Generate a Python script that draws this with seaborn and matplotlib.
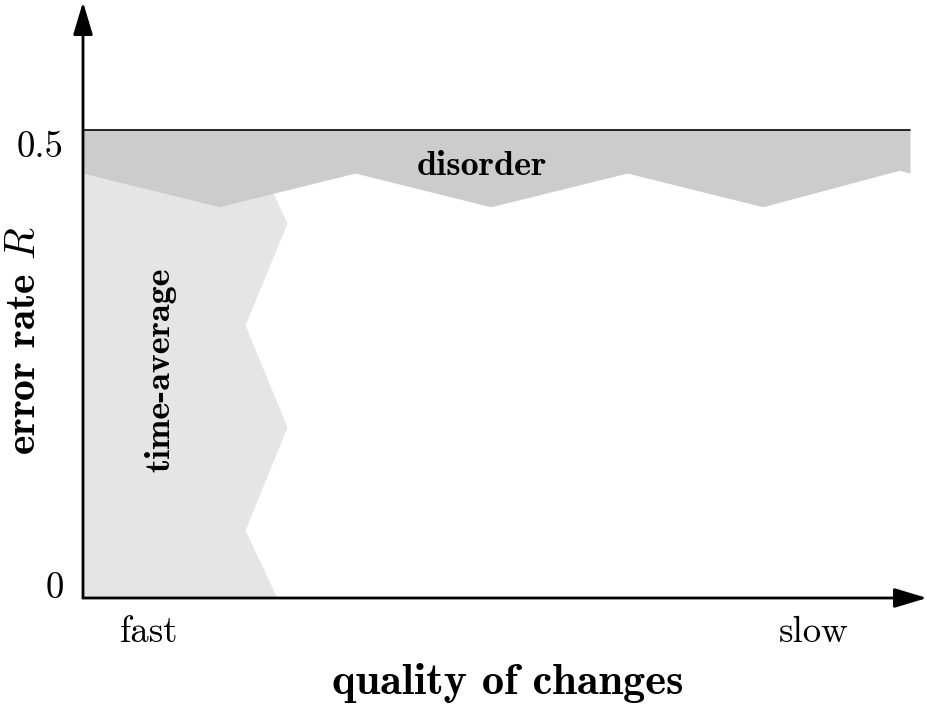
import matplotlib
matplotlib.use('Agg')
import matplotlib.pyplot as plt
import seaborn as sns
import numpy as np

# data (x: 0 = fast ... 1 = slow, y: error rate R)
disorder_x = [0.0, 0.1645, 0.329, 0.493, 0.658, 0.822, 0.987, 1.0]
disorder_low = [0.454, 0.418, 0.454, 0.418, 0.454, 0.418, 0.457, 0.454]
disorder_top = 0.5

avg_y = [0.0, 0.0726, 0.1827, 0.2917, 0.4006, 0.4327, 0.456]
avg_x = [0.2346, 0.1959, 0.2467, 0.1959, 0.2467, 0.2296, 0.217]

ytick_vals = [0, 0.5]
ytick_labels = ['0', '0.5']
xtick_labels = ['fast', 'slow']

sns.set_theme(style='white')
plt.rcParams['font.family'] = ['cmr10']
plt.rcParams['mathtext.fontset'] = 'cm'
plt.rcParams['axes.formatter.use_mathtext'] = True
plt.rcParams['text.color'] = 'black'

fig = plt.figure(figsize=(9.27, 7.04), dpi=100)
ax = fig.add_axes([0, 0, 1, 1])
ax.set_xlim(-83 / 827, 844 / 827)
ax.set_ylim(-106 / 936, 598 / 936)
ax.axis('off')

# time-average region
ax.fill_betweenx(avg_y, 0, avg_x, color='#e5e5e5', lw=0, zorder=1)

# disorder band
ax.fill_between(disorder_x, disorder_low, disorder_top, color='#cccccc', lw=0, zorder=2)
sns.lineplot(x=[disorder_x[0], disorder_x[-1]], y=[disorder_top, disorder_top],
             color='black', lw=1.2, ax=ax, zorder=3, estimator=None)

# axes with arrows
arrow = dict(arrowstyle='-|>,head_length=2.0,head_width=0.6', mutation_scale=10,
             color='black', lw=2, shrinkA=0, shrinkB=0)
ax.annotate('', xy=(0, 596 / 936), xytext=(0, 0), arrowprops=arrow, zorder=4)
ax.annotate('', xy=(844 / 827, 0), xytext=(0, 0), arrowprops=arrow, zorder=4)

# tick labels
ax.text(-0.052, ytick_vals[1] - 0.019, ytick_labels[1], fontsize=26.5, ha='center', va='center')
ax.text(-0.034, ytick_vals[0] + 0.010, ytick_labels[0], fontsize=26.5, ha='center', va='center')
ax.text(0.0795, -0.037, xtick_labels[0], fontsize=26.5, ha='center', va='center')
ax.text(0.884, -0.037, xtick_labels[1], fontsize=26.5, ha='center', va='center')

# axis labels
ax.text(0.513, -0.1026, 'quality of changes', fontsize=32, family='cmb10',
        ha='center', va='baseline')
ax.text(-0.0713, 0.2746, r'error rate $R$', fontsize=30, family='cmb10',
        rotation=90, ha='center', va='center')

# region labels
ax.text(0.482, 0.4519, 'disorder', fontsize=26, family='cmb10',
        ha='center', va='baseline', zorder=5)
ax.text(0.0931, 0.2436, 'time-average', fontsize=26, family='cmb10',
        rotation=90, ha='center', va='center', zorder=5)

fig.savefig('out.png', dpi=100)
